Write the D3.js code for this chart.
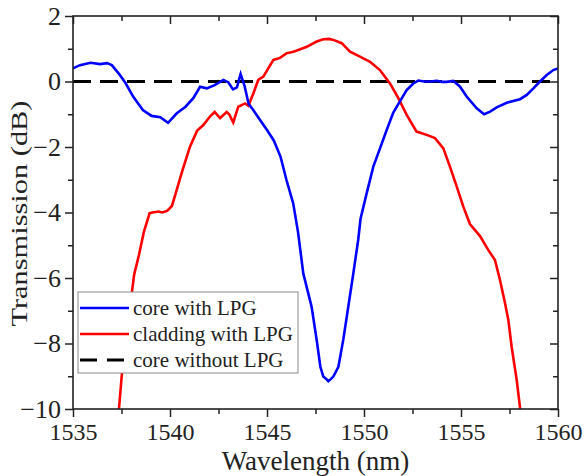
<!DOCTYPE html>
<html>
<head>
<meta charset="utf-8">
<script src="https://cdn.jsdelivr.net/npm/d3@7"></script>
<style>
  body { margin: 0; background: #fff; }
  text { font-family: "Liberation Serif", "Times New Roman", serif; fill: #222; }
</style>
</head>
<body>
<script>

let width = 586;
let height = 476;

let margins = { top: 16, right: 28, bottom: 67, left: 73 };

// ticks
let xTicks = [1535, 1540, 1545, 1550, 1555, 1560];
let xMinor = [1537.5, 1542.5, 1547.5, 1552.5, 1557.5];
let yTicks = [2, 0, -2, -4, -6, -8, -10];
let yMinor = [1, -1, -3, -5, -7, -9];

// core with LPG (wavelength nm, dB)
let coreLambda = [1535.0, 1535.36, 1535.9, 1536.4, 1536.75, 1537.0, 1537.35, 1537.7, 1538.1, 1538.6,
	1539.05, 1539.5, 1539.9, 1540.35, 1540.8, 1541.2, 1541.55, 1541.9, 1542.3, 1542.75,
	1543.0, 1543.25, 1543.45, 1543.64, 1543.85, 1544.05, 1544.3, 1544.65, 1545.0, 1545.35,
	1545.7, 1546.0, 1546.35, 1546.6, 1546.87, 1547.3, 1547.56, 1547.75, 1547.9, 1548.05,
	1548.16, 1548.3, 1548.42, 1548.68, 1548.93, 1549.19, 1549.45, 1549.7, 1549.82, 1550.14,
	1550.48, 1550.82, 1551.17, 1551.51, 1551.86, 1552.2, 1552.54, 1552.8, 1553.1, 1553.4,
	1553.75, 1554.0, 1554.26, 1554.6, 1554.95, 1555.29, 1555.81, 1556.19, 1556.5, 1556.84,
	1557.36, 1558.04, 1558.39, 1558.73, 1559.07, 1559.42, 1559.76, 1560.0];
let coreDB = [0.40, 0.50, 0.57, 0.53, 0.56, 0.50, 0.25, -0.04, -0.46, -0.87,
	-1.05, -1.09, -1.26, -0.97, -0.77, -0.51, -0.16, -0.21, -0.11, 0.05,
	-0.02, -0.24, -0.18, 0.23, -0.15, -0.68, -0.88, -1.18, -1.48, -1.8,
	-2.3, -3.0, -3.72, -4.6, -5.86, -6.88, -7.89, -8.71, -9.01, -9.08,
	-9.15, -9.08, -9.01, -8.71, -7.89, -6.88, -5.86, -4.84, -4.2, -3.41,
	-2.6, -2.05, -1.48, -0.95, -0.6, -0.26, -0.06, 0.03, 0.0, 0.0,
	0.02, -0.01, -0.01, 0.02, -0.16, -0.46, -0.82, -1.0, -0.92, -0.79,
	-0.65, -0.54, -0.41, -0.21, 0.0, 0.2, 0.35, 0.40];

// cladding with LPG
let cladLambda = [1537.37, 1537.51, 1537.7, 1537.94, 1538.15, 1538.4, 1538.65, 1538.95, 1539.1, 1539.4,
	1539.6, 1539.85, 1540.1, 1540.35, 1540.65, 1541.03, 1541.4, 1541.72, 1542.06, 1542.3,
	1542.58, 1542.92, 1543.05, 1543.26, 1543.52, 1543.87, 1544.04, 1544.3, 1544.55, 1544.81,
	1545.33, 1545.67, 1546.0, 1546.36, 1546.61, 1547.05, 1547.56, 1547.9, 1548.2, 1548.42,
	1548.85, 1549.28, 1549.79, 1550.31, 1550.82, 1551.34, 1551.77, 1552.2, 1552.71, 1553.23,
	1553.66, 1554.09, 1554.43, 1554.78, 1555.12, 1555.46, 1555.98, 1556.41, 1556.75, 1557.01,
	1557.27, 1557.44, 1557.61, 1557.87, 1558.05];
let cladDB = [-10, -9.0, -7.9, -6.88, -5.9, -5.3, -4.6, -4.02, -4.0, -3.97,
	-4.0, -3.95, -3.8, -3.3, -2.7, -1.99, -1.5, -1.33, -1.07, -0.93,
	-1.12, -0.93, -1.0, -1.25, -0.77, -0.67, -0.74, -0.36, 0.05, 0.15,
	0.66, 0.72, 0.86, 0.91, 0.96, 1.06, 1.22, 1.29, 1.30, 1.27,
	1.17, 0.91, 0.76, 0.6, 0.35, -0.06, -0.51, -1.02, -1.53, -1.63,
	-1.73, -2.04, -2.6, -3.21, -3.82, -4.35, -4.72, -5.15, -5.45, -6.06,
	-6.77, -7.28, -8.1, -9.11, -10];

// core without LPG
let refLambda = [1535, 1560];
let refDB = [0, 0];

let series = [
	{ name: "core with LPG", x: coreLambda, y: coreDB, color: "#0000ff", dash: null },
	{ name: "cladding with LPG", x: cladLambda, y: cladDB, color: "#ff0000", dash: null },
	{ name: "core without LPG", x: refLambda, y: refDB, color: "#000000", dash: "18,9" }
];

let xScale = d3.scaleLinear()
	.range([margins.left, width - margins.right])
	.domain([1535, 1560]);

let yScale = d3.scaleLinear()
	.range([height - margins.bottom, margins.top])
	.domain([-10, 2]);

let svg = d3.select("body")
	.append("svg")
		.attr("width", width)
		.attr("height", height);

svg.append("rect").attr("width", width).attr("height", height).attr("fill", "#fff");

let plotW = width - margins.left - margins.right;
let plotH = height - margins.top - margins.bottom;

svg.append("clipPath").attr("id", "clip")
	.append("rect")
		.attr("x", margins.left).attr("y", margins.top)
		.attr("width", plotW).attr("height", plotH);

let line = d3.line()
	.x(d => xScale(d[0]))
	.y(d => yScale(d[1]));

let plot = svg.append("g").attr("clip-path", "url(#clip)");

// dashed reference first, colored curves on top
[series[2], series[1], series[0]].forEach(s => {
	plot.append("path")
		.datum(s.x.map((v, i) => [v, s.y[i]]))
		.attr("d", line)
		.style("fill", "none")
		.style("stroke", s.color)
		.style("stroke-width", s.dash ? "3px" : "2.6px")
		.style("stroke-dasharray", s.dash);
});

function styleAxis(g, fontSize) {
	g.select(".domain").remove();
	g.selectAll("line").style("stroke", "#222").style("stroke-width", "1.5px");
	g.selectAll("text").style("font-size", fontSize + "px").style("fill", "#222")
		.style("font-family", "'Liberation Serif', 'Times New Roman', serif");
}

let bottomY = height - margins.bottom;
let rightX = width - margins.right;

// bottom axis (outward)
svg.append("g")
	.attr("transform", "translate(0," + bottomY + ")")
	.call(d3.axisBottom(xScale).tickValues(xTicks).tickSize(8).tickPadding(6).tickFormat(d3.format("d")))
	.call(g => styleAxis(g, 24));
svg.append("g")
	.attr("transform", "translate(0," + bottomY + ")")
	.call(d3.axisBottom(xScale).tickValues(xMinor).tickSize(5).tickFormat(""))
	.call(g => styleAxis(g, 24));

// top axis (inward)
svg.append("g")
	.attr("transform", "translate(0," + margins.top + ")")
	.call(d3.axisTop(xScale).tickValues(xTicks).tickSize(-8).tickFormat(""))
	.call(g => styleAxis(g, 24));
svg.append("g")
	.attr("transform", "translate(0," + margins.top + ")")
	.call(d3.axisTop(xScale).tickValues(xMinor).tickSize(-5).tickFormat(""))
	.call(g => styleAxis(g, 24));

// left axis (outward)
svg.append("g")
	.attr("transform", "translate(" + margins.left + ",0)")
	.call(d3.axisLeft(yScale).tickValues(yTicks).tickSize(8).tickPadding(4).tickFormat(d3.format("d")))
	.call(g => styleAxis(g, 26));
svg.append("g")
	.attr("transform", "translate(" + margins.left + ",0)")
	.call(d3.axisLeft(yScale).tickValues(yMinor).tickSize(5).tickFormat(""))
	.call(g => styleAxis(g, 26));

// right axis (inward)
svg.append("g")
	.attr("transform", "translate(" + rightX + ",0)")
	.call(d3.axisRight(yScale).tickValues(yTicks).tickSize(-8).tickFormat(""))
	.call(g => styleAxis(g, 26));
svg.append("g")
	.attr("transform", "translate(" + rightX + ",0)")
	.call(d3.axisRight(yScale).tickValues(yMinor).tickSize(-5).tickFormat(""))
	.call(g => styleAxis(g, 26));

// frame
svg.append("rect")
	.attr("x", margins.left).attr("y", margins.top)
	.attr("width", plotW).attr("height", plotH)
	.style("fill", "none").style("stroke", "#222").style("stroke-width", "1.6px");

// axis titles
svg.append("text")
	.attr("x", margins.left + plotW / 2)
	.attr("y", 470)
	.attr("text-anchor", "middle")
	.style("font-size", "27px")
	.text("Wavelength (nm)");

svg.append("text")
	.attr("transform", "translate(27," + (margins.top + plotH / 2 + 1) + ") rotate(-90)")
	.attr("text-anchor", "middle")
	.attr("textLength", 226)
	.attr("lengthAdjust", "spacingAndGlyphs")
	.style("font-size", "23px")
	.text("Transmission (dB)");

// legend
let legend = svg.append("g").attr("transform", "translate(78,292)");
legend.append("rect")
	.attr("width", 220).attr("height", 81)
	.style("fill", "#fff").style("stroke", "#8a8a8a").style("stroke-width", "1px");

series.forEach((s, i) => {
	let cy = 16 + i * 26;
	legend.append("line")
		.attr("x1", 2).attr("x2", 51)
		.attr("y1", cy).attr("y2", cy)
		.style("stroke", s.color)
		.style("stroke-width", s.dash ? "3px" : "2.6px")
		.style("stroke-dasharray", s.dash ? "17,10" : null);
	legend.append("text")
		.attr("x", 55).attr("y", cy + 7)
		.style("font-size", "21px")
		.text(s.name);
});

</script>
</body>
</html>
